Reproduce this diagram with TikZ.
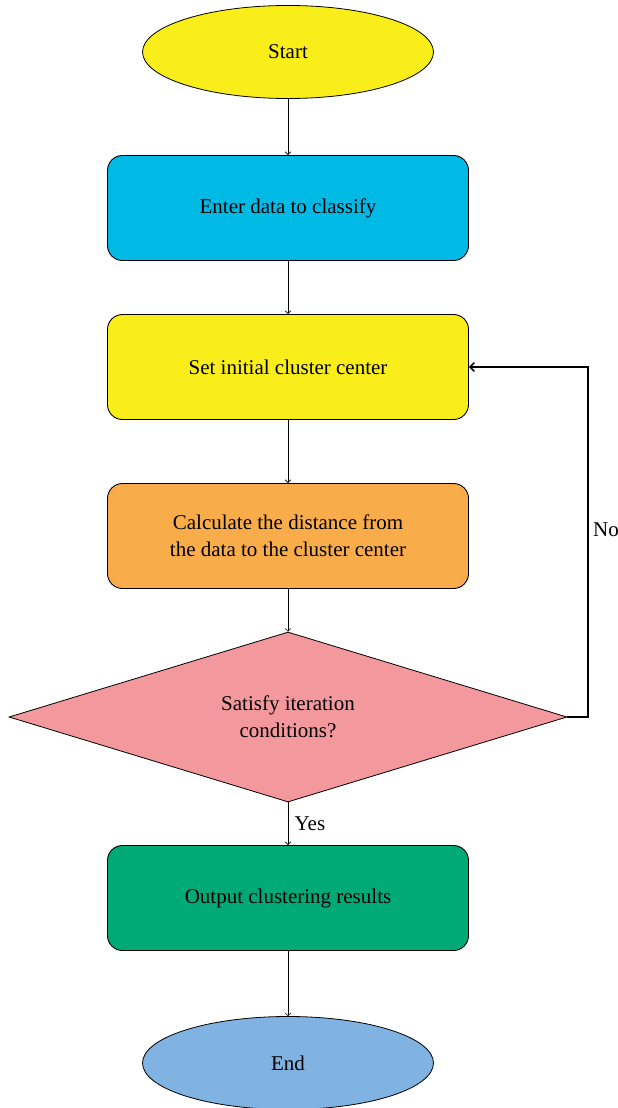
\documentclass[tikz,border=0pt]{standalone}
\usepackage{fontspec}
\setmainfont{Liberation Serif}
\usetikzlibrary{arrows}
\usetikzlibrary{shapes.geometric}

\definecolor{startyellow}{RGB}{249,238,26}
\definecolor{enterblue}{RGB}{0,186,230}
\definecolor{calcorange}{RGB}{249,172,74}
\definecolor{condpink}{RGB}{243,153,158}
\definecolor{outgreen}{RGB}{0,170,118}
\definecolor{endblue}{RGB}{128,179,225}

\begin{document}
\begin{tikzpicture}[x=1pt,y=-1pt,
  font=\fontsize{21}{27}\selectfont,
  term/.style={ellipse,draw,line width=0.8pt,inner sep=0,minimum width=291pt,minimum height=93pt},
  proc/.style={rectangle,rounded corners=15pt,draw,line width=0.9pt,inner sep=0,minimum width=361pt,minimum height=105pt,align=center},
  cond/.style={diamond,aspect=3.28,draw,line width=0.8pt,inner sep=0,minimum width=558pt,minimum height=170pt,align=center},
  flow/.style={->,>=angle 90,line width=0.6pt}]
\useasboundingbox (0,0) rectangle (618,1108);
\node[term,fill=startyellow] (start) at (288,52) {Start};
\node[proc,fill=enterblue] (enter) at (288,208) {Enter data to classify};
\node[proc,fill=startyellow] (init) at (288,367) {Set initial cluster center};
\node[proc,fill=calcorange] (calc) at (288,536) {Calculate the distance from\\the data to the cluster center};
\node[cond,fill=condpink] (check) at (288,717) {Satisfy iteration\\conditions?};
\node[proc,fill=outgreen] (out) at (288,898) {Output clustering results};
\node[term,fill=endblue] (end) at (288,1063) {End};
\coordinate (loopa) at (588,717);
\coordinate (loopb) at (588,367);
\draw[flow] (start) -- (enter);
\draw[flow] (enter) -- (init);
\draw[flow] (init) -- (calc);
\draw[flow] (calc) -- (check);
\draw[flow] (check) -- node[right,xshift=3pt]{Yes} (out);
\draw[flow] (out) -- (end);
\draw[->,>=angle 90,line width=1.5pt] (check.east) -- (loopa) -- node[right,xshift=1pt,yshift=12pt]{No} (loopb) -- (init.east);
\end{tikzpicture}
\end{document}
